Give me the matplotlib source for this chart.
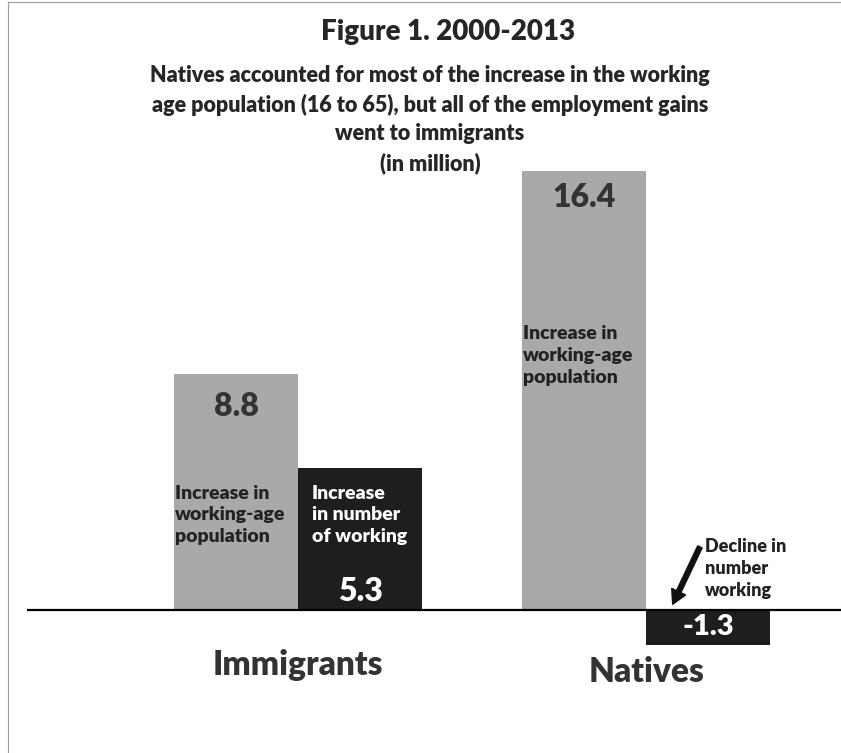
import matplotlib
matplotlib.use("Agg")
import matplotlib.pyplot as plt
from matplotlib.lines import Line2D

plt.rcParams['font.family'] = ['Lato', 'DejaVu Sans']
plt.rcParams['font.weight'] = 'heavy'

# data (millions, 2000-2013)
groups = ["Immigrants", "Natives"]
pop_increase = [8.8, 16.4]
work_change = [5.3, -1.3]
pop_label = "Increase in\nworking-age\npopulation"
work_label = "Increase\nin number\nof working"
decline_label = "Decline in\nnumber\nworking"

light = "#a9a9a9"
dark = "#1e1e1e"
txt = "#262626"

W, H = 841, 753
fig = plt.figure(figsize=(W / 100, H / 100), dpi=100)

# axes placed by pixel positions of the baseline area
ax = fig.add_axes([27 / W, 1 - 700 / H, (W - 27) / W, (700 - 160) / H])
ax.set_ylim(-3.36, 16.8)
ax.set_xlim(-0.779, 1.560)
ax.axis("off")

w = 0.356
x = [0, 1]
xl = [i - w / 2 for i in x]
xr = [i + w / 2 for i in x]

ax.bar(xl, pop_increase, width=w, color=light)
ax.bar(xr, work_change, width=w, color=dark)
ax.axhline(0, color="black", lw=1.6)

# value labels
ax.text(xl[0], pop_increase[0] - 1.2, "8.8", ha="center", va="center",
        fontsize=23, color="#333333")
ax.text(xl[1], pop_increase[1] - 1.0, "16.4", ha="center", va="center",
        fontsize=23, color="#333333")
ax.text(xr[0], 0.68, "5.3", ha="center", va="center", fontsize=23, color="white")
ax.text(xr[1], work_change[1] / 2, "-1.3", ha="center", va="center",
        fontsize=21, color="white")

# in-bar descriptions
for i in x:
    ax.text(xl[i] - w / 2 + 0.003, 3.55 if i == 0 else 9.5, pop_label,
            ha="left", va="center", fontsize=14, color="#222222",
            linespacing=1.35)
ax.text(xr[0] - w / 2 + 0.04, 3.55, work_label, ha="left", va="center",
        fontsize=14, color="white", linespacing=1.35)

# natives decline note with arrow
ax.text(xr[1] - 0.01, 1.55, decline_label, ha="left", va="center",
        fontsize=13, color="#222222", linespacing=1.35)
ax.annotate("", xy=(xr[1] - 0.105, 0.12), xytext=(xr[1] - 0.02, 2.45),
            arrowprops=dict(arrowstyle="simple,head_width=1.1,head_length=1.0,tail_width=0.35",
                            color="#111111"))

# category labels
ax.text(x[0], -2.05, groups[0], ha="center", va="center", fontsize=24, color="#333333")
ax.text(x[1], -2.3, groups[1], ha="center", va="center", fontsize=24, color="#333333")

# titles
fig.text(448 / W, 1 - 32 / H, "Figure 1. 2000-2013", ha="center", va="center",
         fontsize=20, color=txt)
subtitle = ["Natives accounted for most of the increase in the working",
            "age population (16 to 65), but all of the employment gains",
            "went to immigrants",
            "(in million)"]
for k, line in enumerate(subtitle):
    fig.text(430 / W, 1 - (75 + 29.5 * k) / H, line, ha="center", va="center",
             fontsize=15.5, color=txt)

# scanned frame edges (left and top)
fig.add_artist(Line2D([8 / W, 8 / W], [0, 1 - 2 / H], color="#9a9a9a", lw=0.8,
                      transform=fig.transFigure))
fig.add_artist(Line2D([8 / W, 1], [1 - 2 / H, 1 - 2 / H], color="#9a9a9a", lw=0.8,
                      transform=fig.transFigure))

fig.savefig("out.png", dpi=100)
